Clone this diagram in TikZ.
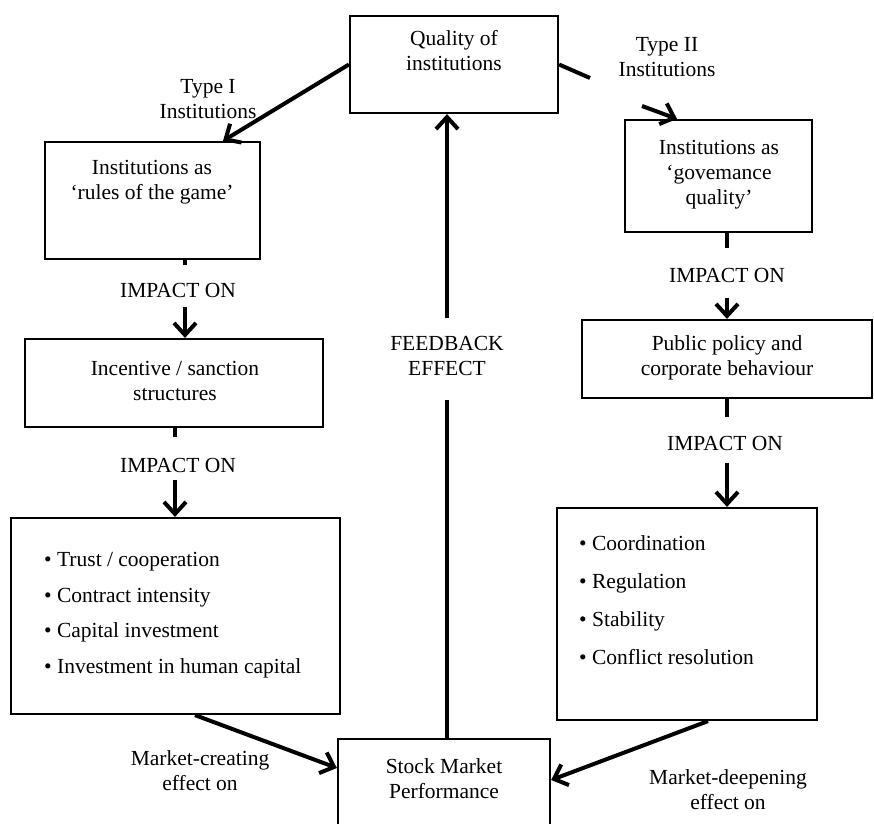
\documentclass[tikz,border=0pt]{standalone}
\usepackage{fontspec}
\setmainfont{Liberation Serif}
\usetikzlibrary{arrows.meta}
\begin{document}
\begin{tikzpicture}[x=1pt,y=-1pt,
  box/.style={draw, line width=2.2pt, inner sep=0pt},
  txt/.style={inner sep=0pt, align=center, font=\fontsize{21.5}{25}\selectfont},
  itemsL/.style={inner sep=0pt, align=left, anchor=west, font=\fontsize{21.5}{35.5}\selectfont},
  itemsR/.style={inner sep=0pt, align=left, anchor=west, font=\fontsize{21.5}{38}\selectfont},
  conn/.style={line width=4pt, -{Straight Barb[length=12pt,width=22pt]}},
  stub/.style={line width=4pt}]
\useasboundingbox (0,0) rectangle (874,823);

% boxes
\node[box, minimum width=208pt, minimum height=97pt] (quality) at (454,64.5) {};
\node[box, minimum width=215pt, minimum height=117pt] (b1) at (152.5,200.5) {};
\node[box, minimum width=298pt, minimum height=88pt] (b2) at (174,383) {};
\node[box, minimum width=329pt, minimum height=196pt] (b3) at (175.5,616) {};
\node[box, minimum width=187pt, minimum height=112pt] (r1) at (718.5,176) {};
\node[box, minimum width=290pt, minimum height=78pt] (r2) at (727,359) {};
\node[box, minimum width=260pt, minimum height=212pt] (r3) at (687,614) {};
\node[box, minimum width=212pt, minimum height=101pt] (stock) at (444,789.5) {};

% box texts
\node[txt] (qualityT) at (454,51) {Quality of\\institutions};
\node[txt] (b1T) at (152,182) {Institutions as\\‘rules of the game’};
\node[txt] (b2T) at (175,381) {Incentive / sanction\\structures};
\node[txt] (r1T) at (719,175) {Institutions as\\‘govemance\\quality’};
\node[txt] (r2T) at (727,358) {Public policy and\\corporate behaviour};
\node[txt] (stockT) at (444,779) {Stock Market\\Performance};
\node[itemsL] (b3T) at (44,615) {\textbullet\ Trust / cooperation\\\textbullet\ Contract intensity\\\textbullet\ Capital investment\\\textbullet\ Investment in human capital};
\node[itemsR] (r3T) at (579,600) {\textbullet\ Coordination\\\textbullet\ Regulation\\\textbullet\ Stability\\\textbullet\ Conflict resolution};

% free labels
\node[txt] (typeI) at (208,99) {Type I\\Institutions};
\node[txt] (typeII) at (667,57) {Type II\\Institutions};
\node[txt] (imp1) at (178,290) {IMPACT ON};
\node[txt] (imp2) at (178,465) {IMPACT ON};
\node[txt] (imp3) at (727,275) {IMPACT ON};
\node[txt] (imp4) at (725,443) {IMPACT ON};
\node[txt] (fb) at (447,356) {FEEDBACK\\EFFECT};
\node[txt] (mc) at (200,771) {Market-creating\\effect on};
\node[txt] (md) at (728,790) {Market-deepening\\effect on};

% free ends
\coordinate (imp1a) at (185,265);
\coordinate (imp1b) at (185,307);
\coordinate (imp2a) at (175,437);
\coordinate (imp2b) at (175,480);
\coordinate (imp3a) at (727,248);
\coordinate (imp3b) at (727,298);
\coordinate (imp4a) at (727,417);
\coordinate (imp4b) at (727,463);
\coordinate (fbA) at (447,400);
\coordinate (fbB) at (447,318);
\coordinate (t2a) at (590,78);
\coordinate (t2b) at (642,106);

% connectors
\draw[conn] (quality.west) -- ([xshift=70.5pt]b1.north);
\draw[stub] (quality.east) -- (t2a);
\draw[conn] (t2b) -- ([xshift=-41.5pt]r1.north);

\draw[stub] (b1.south -| imp1a) -- (imp1a);
\draw[conn] (imp1b) -- (b2.north -| imp1b);
\draw[stub] (b2.south -| imp2a) -- (imp2a);
\draw[conn] (imp2b) -- (b3.north -| imp2b);

\draw[stub] (r1.south -| imp3a) -- (imp3a);
\draw[conn] (imp3b) -- (r2.north -| imp3b);
\draw[stub] (r2.south -| imp4a) -- (imp4a);
\draw[conn] (imp4b) -- (r3.north -| imp4b);

\draw[stub] (stock.north -| fbA) -- (fbA);
\draw[conn] (fbB) -- (quality.south -| fbB);

\draw[conn] ([xshift=19.5pt]b3.south) -- ([yshift=21.5pt]stock.west);
\draw[conn] ([xshift=21pt]r3.south) -- ([yshift=9.5pt]stock.east);
\end{tikzpicture}
\end{document}
